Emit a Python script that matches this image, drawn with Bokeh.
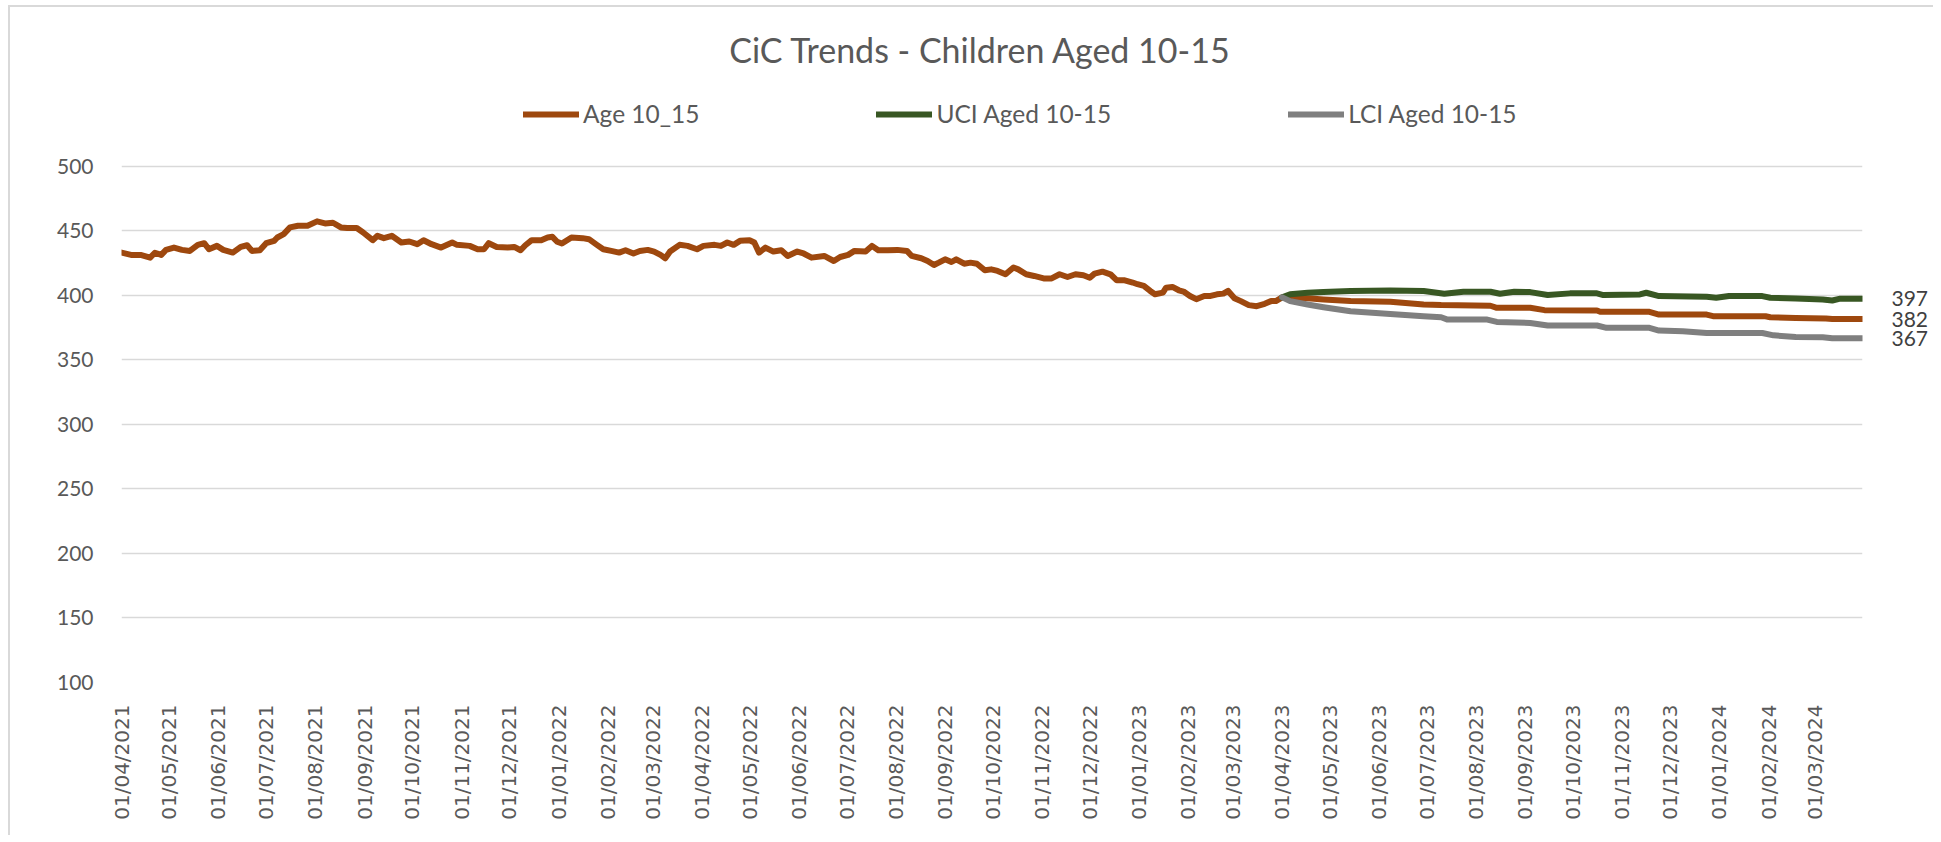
import math
import pandas as pd
from bokeh.plotting import figure
from bokeh.models import Range1d, FixedTicker, Legend, LegendItem, LinearAxis, Label
from bokeh.embed import file_html
from bokeh.resources import INLINE

# ---------------- data ----------------
title_text = "CiC Trends - Children Aged 10-15"
start_date = "01/04/2021"
tick_labels = [
    "01/04/2021", "01/05/2021", "01/06/2021", "01/07/2021", "01/08/2021", "01/09/2021",
    "01/10/2021", "01/11/2021", "01/12/2021", "01/01/2022", "01/02/2022", "01/03/2022",
    "01/04/2022", "01/05/2022", "01/06/2022", "01/07/2022", "01/08/2022", "01/09/2022",
    "01/10/2022", "01/11/2022", "01/12/2022", "01/01/2023", "01/02/2023", "01/03/2023",
    "01/04/2023", "01/05/2023", "01/06/2023", "01/07/2023", "01/08/2023", "01/09/2023",
    "01/10/2023", "01/11/2023", "01/12/2023", "01/01/2024", "01/02/2024", "01/03/2024",
]
y_ticks = [100, 150, 200, 250, 300, 350, 400, 450, 500]
last_day = 1095  # 31/03/2024

series_names = ["Age 10_15", "UCI Aged 10-15", "LCI Aged 10-15"]

# days since 01/04/2021
age_days = [
    0, 6, 12, 18, 21, 25, 28, 33, 38, 43, 48, 52, 55, 60, 64, 70, 75, 79, 82, 87,
    91, 96, 98, 102, 106, 111, 117, 123, 128, 133, 138, 142, 148, 152, 158, 161, 165, 170, 176, 181,
    186, 190, 195, 201, 208, 211, 219, 224, 228, 231, 236, 243, 247, 251, 254, 258, 264, 268, 271, 274,
    277, 283, 290, 294, 299, 303, 308, 313, 317, 322, 326, 331, 335, 339, 342, 345, 351, 356, 362, 366,
    373, 377, 381, 385, 389, 395, 398, 401, 405, 410, 415, 419, 425, 429, 434, 442, 448, 452, 457, 461,
    468, 472, 476, 482, 488, 494, 497, 503, 507, 511, 514, 518, 522, 525, 530, 534, 538, 543, 547, 551,
    556, 561, 564, 569, 574, 580, 585, 590, 595, 600, 605, 609, 612, 617, 622, 626, 631, 636, 639, 643,
    647, 650, 655, 657, 661, 665, 668, 672, 676, 681, 685, 689, 693, 696, 700, 704, 709, 714, 719, 723,
    726, 730, 735, 746, 756, 773, 798, 819, 830, 861, 865, 886, 895, 928, 930, 961, 967, 997, 1001, 1034,
    1037, 1053, 1072, 1076, 1095,
]
age_values = [
    433.1, 431.3, 431.3, 429.2, 433.0, 431.3, 435.2, 437.0, 435.2, 434.4, 439.1, 440.4, 435.7, 438.3, 435.2, 433.1, 437.5, 438.8, 434.4, 434.9,
    440.4, 442.2, 444.8, 447.4, 452.6, 453.9, 453.9, 457.3, 455.7, 456.2, 452.6, 452.1, 452.1, 448.7, 442.7, 446.1, 444.3, 446.1, 440.9, 441.7,
    439.6, 442.7, 439.6, 437.0, 440.9, 439.1, 438.3, 435.7, 435.7, 440.4, 437.5, 437.0, 437.5, 434.9, 438.8, 442.7, 442.7, 444.8, 445.3, 441.5,
    440.1, 444.8, 444.3, 443.5, 439.1, 435.7, 434.4, 433.1, 434.9, 432.4, 434.4, 435.2, 433.9, 431.3, 428.7, 433.9, 439.1, 438.3, 435.7, 438.3,
    439.1, 438.3, 440.9, 439.1, 442.2, 442.7, 440.9, 433.1, 437.0, 433.9, 434.9, 430.5, 433.9, 432.4, 429.2, 430.5, 426.6, 429.7, 431.3, 434.4,
    433.9, 438.3, 434.9, 434.9, 435.2, 434.4, 430.5, 428.7, 426.6, 423.5, 425.3, 427.9, 425.8, 427.9, 424.5, 425.3, 424.5, 419.4, 420.1, 418.9,
    416.3, 421.5, 420.1, 416.3, 415.0, 413.1, 413.1, 416.3, 414.2, 416.3, 415.5, 413.6, 416.8, 418.3, 416.3, 411.6, 411.6, 409.9, 408.6, 407.3,
    403.4, 400.8, 402.1, 405.9, 406.5, 403.9, 402.9, 399.5, 397.0, 399.5, 399.5, 400.8, 401.3, 403.4, 397.7, 395.5, 392.4, 391.6, 393.4, 395.5,
    395.5, 398.4, 398.1, 397.7, 396.8, 395.5, 395.0, 392.9, 392.4, 391.9, 390.3, 390.3, 388.5, 388.2, 387.2, 387.2, 385.1, 385.1, 383.8, 383.8,
    383.0, 382.5, 382.0, 381.6, 381.6,
]

uci_days = [
    730, 735, 746, 756, 773, 798, 819, 832, 844, 861, 867, 876, 886, 897, 911, 928, 932, 955, 959, 967,
    997, 1003, 1011, 1032, 1037, 1053, 1070, 1076, 1081, 1095,
]
uci_values = [
    398.4, 400.8, 402.0, 402.5, 403.3, 403.8, 403.3, 401.2, 402.8, 402.8, 401.2, 402.8, 402.5, 400.2, 401.5, 401.5, 400.2, 400.7, 402.0, 399.4,
    398.9, 398.1, 399.4, 399.4, 398.1, 397.6, 396.8, 396.0, 397.4, 397.4,
]

lci_days = [
    730, 735, 746, 756, 773, 798, 819, 830, 834, 859, 865, 886, 897, 928, 934, 961, 967, 982, 997, 1032,
    1039, 1053, 1070, 1076, 1095,
]
lci_values = [
    398.4, 395.5, 392.9, 390.8, 387.7, 385.6, 383.8, 383.0, 381.2, 381.2, 379.4, 378.6, 376.6, 376.6, 374.8, 374.8, 372.7, 372.1, 370.8, 370.8,
    369.0, 367.7, 367.5, 366.7, 366.7,
]

# ---------------- styling ----------------
COL_AGE = "#9E480E"
COL_UCI = "#385723"
COL_LCI = "#7F7F7F"
TEXT = "#595959"
FONT = "Lato"

W, H = 1925, 830
Y_TOP = 623  # headroom above the 500 gridline for title + legend

start = pd.to_datetime(start_date, format="%d/%m/%Y")
tick_pos = [int((pd.to_datetime(t, format="%d/%m/%Y") - start).days) for t in tick_labels]

p = figure(
    width=W, height=H, output_backend="svg", toolbar_location=None,
    x_range=Range1d(0, last_day), y_range=Range1d(y_ticks[0], Y_TOP),
    min_border_left=111, min_border_right=73, min_border_top=0, min_border_bottom=155,
)
p.styles = {"margin": "5px 0px 0px 8px",
            "border-top": "2px solid #D9D9D9", "border-left": "2px solid #D9D9D9"}
p.outline_line_color = None
p.background_fill_color = "white"
p.border_fill_color = "white"

p.xgrid.grid_line_color = None
p.ygrid.grid_line_color = "#D9D9D9"
p.ygrid.grid_line_width = 1.5

p.yaxis.ticker = FixedTicker(ticks=y_ticks)
p.xaxis.ticker = FixedTicker(ticks=tick_pos)
p.xaxis.major_label_overrides = {pos: lab for pos, lab in zip(tick_pos, tick_labels)}
p.xaxis.major_label_orientation = math.pi / 2

lw = 6
r_age = p.line(age_days, age_values, line_color=COL_AGE, line_width=lw, line_join="round", line_cap="round")
r_uci = p.line(uci_days, uci_values, line_color=COL_UCI, line_width=lw, line_join="round", line_cap="round")
r_lci = p.line(lci_days, lci_values, line_color=COL_LCI, line_width=lw, line_join="round", line_cap="round")

# end-of-line value labels, as a right-hand axis ticked at the last values
end_y = [age_values[-1], uci_values[-1], lci_values[-1]]
right_axis = LinearAxis(ticker=FixedTicker(ticks=end_y),
                        major_label_overrides={v: f"{v:.0f}" for v in end_y})
p.add_layout(right_axis, "right")

for ax in (p.xaxis[0], p.yaxis[0], right_axis):
    ax.axis_line_color = None
    ax.major_tick_line_color = None
    ax.minor_tick_line_color = None
    ax.major_label_text_color = TEXT
p.yaxis[0].major_label_text_font = FONT
p.yaxis[0].major_label_text_font_size = "21px"
p.yaxis[0].major_label_standoff = 22
right_axis.major_label_text_font = FONT
right_axis.major_label_text_font_size = "21px"
right_axis.major_label_text_color = "#404040"
right_axis.major_label_standoff = 23
p.xaxis.major_label_text_font = "DejaVu Sans"
p.xaxis.major_label_text_font_size = "20px"
p.xaxis.major_label_standoff = 16

legend = Legend(
    items=[LegendItem(label=series_names[0], renderers=[r_age]),
           LegendItem(label=series_names[1], renderers=[r_uci]),
           LegendItem(label=series_names[2], renderers=[r_lci])],
    orientation="horizontal", location=(402, 554),
    glyph_width=56, glyph_height=20, label_standoff=4, spacing=177,
    padding=0, margin=0, border_line_color=None, background_fill_alpha=0,
    label_text_font=FONT, label_text_font_size="24.5px", label_text_color=TEXT,
)
p.add_layout(legend, "center")

title = Label(x=859, y=633, x_units="screen", y_units="screen", text=title_text,
              text_align="center", text_baseline="middle", text_font=FONT,
              text_font_size="34px", text_color=TEXT)
p.add_layout(title)

open("out.html", "w").write(file_html(p, INLINE))
